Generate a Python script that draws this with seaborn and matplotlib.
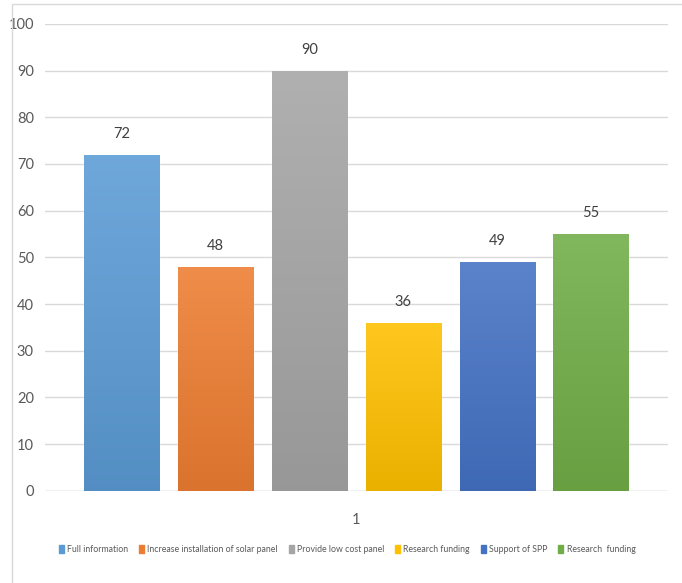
import numpy as np
import pandas as pd
import matplotlib
matplotlib.use("Agg")
import matplotlib.pyplot as plt
import matplotlib.colors as mcolors
from matplotlib.patches import Rectangle
import seaborn as sns

# Survey responses per suggestion
categories = ["Full information", "Increase installation of solar panel",
              "Provide low cost panel", "Research funding",
              "Support of SPP", "Research  funding"]
values = [72, 48, 90, 36, 49, 55]
group_label = ["1"] * len(categories)
colors = ["#5B9BD5", "#ED7D31", "#A5A5A5", "#FFC000", "#4472C4", "#70AD47"]
y_ticks = list(range(0, 101, 10))

sns.set_theme(style="white")
plt.rcParams["font.family"] = ["Lato", "DejaVu Sans"]

df = pd.DataFrame({"group": group_label, "item": categories, "value": values})

fig = plt.figure(figsize=(6.82, 5.83), dpi=100)
ax = fig.add_axes([0.066, 0.158, 0.913, 0.801])

sns.barplot(data=df, x="group", y="value", hue="item",
            hue_order=categories, palette=colors, width=0.904, gap=0.2,
            saturation=1, legend=False, ax=ax)

# soft vertical shading inside each bar, value label above it
for patch, c, v in zip(list(ax.patches), colors, values):
    x0, y0 = patch.get_x(), patch.get_y()
    w, h = patch.get_width(), patch.get_height()
    rgb = np.array(mcolors.to_rgb(c))
    top = np.clip(rgb * 0.88 + 0.12, 0, 1)
    bot = np.clip(rgb * 0.92, 0, 1)
    t = np.linspace(0, 1, 64)[:, None]
    grad = (bot[None, :] * (1 - t) + top[None, :] * t)[:, None, :]
    im = ax.imshow(grad, extent=[x0, x0 + w, y0, y0 + h], origin="lower",
                   aspect="auto", zorder=patch.get_zorder() + 0.1)
    im.set_clip_path(patch)
    ax.text(x0 + w / 2, y0 + h + 4.5, f"{v}",
            ha="center", va="center", fontsize=10.5, color="#404040")

ax.set_xlim(-0.5, 0.5)
ax.set_ylim(0, 100)
ax.set_yticks(y_ticks)
ax.yaxis.grid(True, color="#D9D9D9", linewidth=1)
ax.set_axisbelow(True)
for s in ax.spines.values():
    s.set_visible(False)
ax.axhline(0, color="#D9D9D9", linewidth=1, zorder=0.5)
ax.tick_params(axis="both", length=0, labelsize=10.5, labelcolor="#595959")
ax.tick_params(axis="x", pad=16)
ax.tick_params(axis="y", pad=8)
ax.set_xlabel("")
ax.set_ylabel("")

handles = [Rectangle((0, 0), 1, 1, color=c) for c in colors]
fig.legend(handles, categories, loc="center", bbox_to_anchor=(0.509, 0.058),
           ncol=6, frameon=False, fontsize=6.3, handlelength=0.58,
           handleheight=1.05, handletextpad=0.35, columnspacing=1.25,
           labelcolor="#595959")

# chart area frame
fig.add_artist(Rectangle((12 / 682, -0.05), 1.2, 1.05 - 4 / 583,
                         transform=fig.transFigure, fill=False,
                         edgecolor="#D9D9D9", linewidth=1))

fig.savefig("out.png", dpi=100)
